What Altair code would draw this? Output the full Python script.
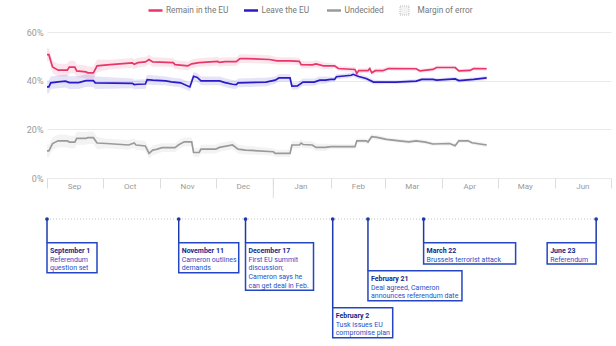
import altair as alt
import pandas as pd

# ---------------- data ----------------
series_names = ["Remain in the EU", "Leave the EU", "Undecided"]
series_colors = ["#e8356a", "#2b1bc4", "#9a9a9a"]

remain_dates = ["2015-09-01","2015-09-02","2015-09-04","2015-09-07","2015-09-12","2015-09-13","2015-09-16","2015-09-17","2015-09-22","2015-09-23","2015-09-26","2015-09-28","2015-10-05","2015-10-17","2015-10-18","2015-10-20","2015-10-24","2015-10-26","2015-10-28","2015-11-08","2015-11-09","2015-11-16","2015-11-18","2015-11-22","2015-12-02","2015-12-03","2015-12-06","2015-12-12","2015-12-14","2015-12-17","2015-12-30","2016-01-03","2016-01-10","2016-01-15","2016-01-16","2016-01-22","2016-01-24","2016-01-28","2016-02-03","2016-02-05","2016-02-14","2016-02-15","2016-02-16","2016-02-21","2016-02-22","2016-02-23","2016-02-25","2016-02-29","2016-03-03","2016-03-18","2016-03-20","2016-03-27","2016-03-29","2016-04-08","2016-04-10","2016-04-16","2016-04-18","2016-04-25"]
remain_values = [50.8,50.8,45.7,44.4,44.4,45.7,45.7,44.1,43.7,43.3,43.3,46.2,46.7,47.4,46.8,47.5,47.8,48.8,47.8,47.5,46.7,46.2,47.0,47.5,48.0,47.6,47.9,47.9,49.2,49.2,48.8,48.2,48.2,48.0,46.7,46.6,47.0,46.2,46.2,45.1,44.7,43.0,44.2,44.2,45.1,43.3,44.2,44.2,45.1,45.0,44.1,44.7,45.5,45.5,44.1,44.3,45.1,45.0]

leave_dates = ["2015-09-01","2015-09-02","2015-09-03","2015-09-07","2015-09-11","2015-09-13","2015-09-18","2015-09-22","2015-09-26","2015-09-27","2015-10-17","2015-10-18","2015-10-20","2015-10-24","2015-10-25","2015-10-28","2015-11-04","2015-11-07","2015-11-12","2015-11-17","2015-11-19","2015-11-21","2015-11-23","2015-12-03","2015-12-06","2015-12-10","2015-12-12","2015-12-13","2015-12-28","2016-01-02","2016-01-04","2016-01-10","2016-01-11","2016-01-14","2016-01-17","2016-01-23","2016-01-26","2016-01-29","2016-02-01","2016-02-03","2016-02-04","2016-02-12","2016-02-13","2016-02-16","2016-02-20","2016-02-24","2016-03-02","2016-03-07","2016-03-18","2016-03-21","2016-03-27","2016-03-29","2016-04-08","2016-04-10","2016-04-18","2016-04-25"]
leave_values = [37.5,37.5,39.2,39.6,39.9,39.3,39.3,40.1,40.1,39.2,39.0,38.5,38.6,38.7,40.5,40.3,40.0,39.6,39.2,37.5,41.9,41.4,40.0,40.0,39.3,38.6,38.5,39.2,39.5,40.3,41.2,41.2,37.8,37.9,39.5,39.5,40.3,40.3,40.6,40.6,41.7,42.3,42.7,41.8,41.0,39.5,39.5,39.5,39.9,40.6,40.6,40.3,40.8,40.1,40.6,41.2]

undecided_dates = ["2015-09-01","2015-09-02","2015-09-04","2015-09-07","2015-09-12","2015-09-13","2015-09-16","2015-09-17","2015-09-22","2015-09-23","2015-09-26","2015-09-28","2015-10-03","2015-10-15","2015-10-18","2015-10-19","2015-10-24","2015-10-26","2015-10-28","2015-10-30","2015-11-02","2015-11-09","2015-11-11","2015-11-14","2015-11-18","2015-11-19","2015-11-22","2015-11-23","2015-12-01","2015-12-03","2015-12-10","2015-12-13","2015-12-17","2016-01-01","2016-01-02","2016-01-10","2016-01-11","2016-01-15","2016-01-16","2016-01-17","2016-01-22","2016-01-24","2016-01-29","2016-02-01","2016-02-14","2016-02-15","2016-02-20","2016-02-21","2016-02-23","2016-02-26","2016-03-02","2016-03-09","2016-03-14","2016-03-18","2016-03-23","2016-03-27","2016-04-05","2016-04-08","2016-04-10","2016-04-15","2016-04-17","2016-04-25"]
undecided_values = [11.2,11.2,14.2,15.3,15.3,14.8,14.8,16.3,16.3,16.6,16.6,14.4,14.2,13.6,14.4,13.6,13.2,10.1,11.5,11.8,12.5,12.5,13.7,14.9,14.9,10.5,10.5,11.9,11.9,12.6,13.6,11.9,11.5,10.8,10.1,10.1,13.6,13.6,14.4,13.8,13.6,12.6,12.6,12.9,12.9,15.3,15.3,14.8,17.0,16.7,15.9,15.3,14.9,15.3,14.8,14.0,14.2,13.3,15.3,15.3,14.5,13.6]

moe_months = ["2015-09","2015-10","2015-11","2015-12","2016-01","2016-02","2016-03","2016-04"]
moe_values = [2.6, 2.0, 1.8, 1.8, 1.5, 1.0, 0.8, 0.8]

month_starts = ["2015-09","2015-10","2015-11","2015-12","2016-01","2016-02","2016-03","2016-04","2016-05","2016-06","2016-07"]
year_starts = ["2016-01-01"]
y_ticks = [0, 20, 40, 60]

event_dates = ["2015-09-01","2015-11-11","2015-12-17","2016-02-02","2016-02-21","2016-03-22","2016-06-23"]
event_titles = ["September 1","November 11","December 17","February 2","February 21","March 22","June 23"]
event_bodies = ["Referendum\nquestion set",
                "Cameron outlines\ndemands",
                "First EU summit\ndiscussion;\nCameron says he\ncan get deal in Feb.",
                "Tusk issues EU\ncompromise plan",
                "Deal agreed, Cameron\nannounces referendum date",
                "Brussels terrorist attack",
                "Referendum"]

legend_labels = ["Remain in the EU", "Leave the EU", "Undecided", "Margin of error"]

# ---------------- layout / style ----------------
W, H = 616, 346
PL, PR = 47, 5
PW = W - PL - PR
Y0_PX, Y60_PX = 178.0, 32.3
k = (Y0_PX - Y60_PX) / 60.0
y_dom = [-(H - Y0_PX) / k, Y0_PX / k]
FONT = "Roboto"
TL_Y = 219
box_tops = [242.7, 242.7, 242.7, 307.7, 270.7, 242.7, 242.7]
box_widths = [50, 60, 68, 60, 94, 92, 49]
box_right_anchored = [False, False, False, False, False, False, True]
LINE_H = 8.7
legend_x = [148.5, 244, 327, 400]

BOX_STROKE = "#2546c2"
NAVY = "#1d3aa6"
TITLE_C = "#13288a"
BODY_C = "#2a4fc5"

# ---------------- frames ----------------
rows = []
for name, ds, vs in zip(series_names, [remain_dates, leave_dates, undecided_dates],
                        [remain_values, leave_values, undecided_values]):
    for d, v in zip(ds, vs):
        rows.append({"series": name, "date": d, "value": v})
df = pd.DataFrame(rows)
moe_map = dict(zip(moe_months, moe_values))
df["moe"] = df["date"].str[:7].map(moe_map)
df["lo"] = df["value"] - df["moe"]
df["hi"] = df["value"] + df["moe"]

def dt(s):
    parts = s.split("-")
    return alt.DateTime(year=int(parts[0]), month=int(parts[1]),
                        date=int(parts[2]) if len(parts) > 2 else 1, utc=True)

x_scale = alt.Scale(type="utc", domain=[dt(month_starts[0]), dt(month_starts[-1])])
y_scale = alt.Scale(domain=y_dom, nice=False, zero=False)
color_scale = alt.Scale(domain=series_names, range=series_colors)

x_axis = alt.Axis(values=[dt(m) for m in month_starts], title=None,
                  labelExpr="utcmonth(datum.value) == 6 ? '' : utcFormat(datum.value, '%b')",
                  offset=-(H - Y0_PX), tickSize=10, tickColor="#dddddd", domain=False,
                  grid=False, labelOffset=27, labelPadding=-6, labelFontSize=8,
                  labelColor="#9a9a9a", labelFont=FONT, labelOverlap=False,
                  labelFlush=False, labelBound=False)
y_axis = alt.Axis(values=y_ticks, labelExpr="datum.value + '%'", title=None,
                  grid=True, gridColor="#e9e9e9", ticks=False, domain=False,
                  labelPadding=4, labelFontSize=9, labelColor="#9a9a9a", labelFont=FONT)

base = alt.Chart(df)
bands = base.mark_area(opacity=0.12).encode(
    x=alt.X("date:T", scale=x_scale, axis=x_axis),
    y=alt.Y("lo:Q", scale=y_scale, axis=y_axis),
    y2="hi:Q",
    color=alt.Color("series:N", scale=color_scale, legend=None),
    detail="series:N",
)
lines = base.mark_line(strokeWidth=1.7).encode(
    x=alt.X("date:T", title=None),
    y=alt.Y("value:Q", title=None),
    color=alt.Color("series:N", scale=color_scale, legend=None),
)

year_rule = alt.Chart(pd.DataFrame({"date": year_starts})).mark_rule(
    color="#dddddd", strokeWidth=1).encode(
    x=alt.X("date:T", title=None), y=alt.value(Y0_PX), y2=alt.value(Y0_PX + 20))

layers = [bands, lines, year_rule]

# legend
for i, lab in enumerate(legend_labels):
    lx = legend_x[i] - PL
    ldf = pd.DataFrame({"label": [lab]})
    if i < len(series_colors):
        layers.append(alt.Chart(ldf).mark_rule(color=series_colors[i], strokeWidth=2.5).encode(
            x=alt.value(lx), x2=alt.value(lx + 14), y=alt.value(10.5)))
    else:
        layers.append(alt.Chart(ldf).mark_rect(fill="#f3f3f3", stroke="#bdbdbd",
                                               strokeDash=[1, 1], strokeWidth=1).encode(
            x=alt.value(lx), x2=alt.value(lx + 9), y=alt.value(6), y2=alt.value(15)))
    layers.append(alt.Chart(ldf).mark_text(align="left", baseline="middle", font=FONT,
                                           fontSize=8.3, color="#777777").encode(
        x=alt.value(lx + 17.5), y=alt.value(10.5), text="label:N"))

# timeline
ev = pd.DataFrame({"date": event_dates, "title": event_titles, "body": event_bodies})
span = pd.DataFrame({"start": [event_dates[0]], "end": [event_dates[-1]]})
layers.append(alt.Chart(span).mark_rule(color="#c4c4c4", strokeDash=[1, 2], strokeWidth=1).encode(
    x=alt.X("start:T", title=None), x2="end:T", y=alt.value(TL_Y)))

for i in range(len(event_dates)):
    row = ev.iloc[[i]]
    top = box_tops[i]
    nlines = 1 + event_bodies[i].count("\n") + 1
    h = 4 + LINE_H * nlines
    w = box_widths[i]
    xo = -w if box_right_anchored[i] else 0
    layers.append(alt.Chart(row).mark_rule(color=NAVY, strokeWidth=1.5).encode(
        x=alt.X("date:T", title=None), y=alt.value(TL_Y), y2=alt.value(top)))
    layers.append(alt.Chart(row).mark_rect(fill="white", stroke=BOX_STROKE, strokeWidth=1.5,
                                           xOffset=xo, x2Offset=xo + w).encode(
        x=alt.X("date:T", title=None), x2="date", y=alt.value(top), y2=alt.value(top + h)))
    layers.append(alt.Chart(row).mark_text(align="left", baseline="top", font=FONT, fontSize=7,
                                           fontWeight="bold", color=TITLE_C, dx=xo + 3).encode(
        x=alt.X("date:T", title=None), y=alt.value(top + 4.3), text="title:N"))
    layers.append(alt.Chart(row).mark_text(align="left", baseline="top", font=FONT, fontSize=7,
                                           color=BODY_C, dx=xo + 3, lineBreak="\n",
                                           lineHeight=LINE_H).encode(
        x=alt.X("date:T", title=None), y=alt.value(top + 4.3 + LINE_H), text="body:N"))

layers.append(alt.Chart(ev).mark_circle(size=14, color=NAVY, opacity=1).encode(
    x=alt.X("date:T", title=None), y=alt.value(TL_Y)))

chart = alt.layer(*layers).properties(
    width=PW, height=H,
    autosize=alt.AutoSizeParams(type="none"),
    padding={"left": PL, "top": 0, "right": PR, "bottom": 0},
    background="white",
).configure_view(stroke=None)

chart.save("out.html", embed_options={"renderer": "svg", "actions": False})
